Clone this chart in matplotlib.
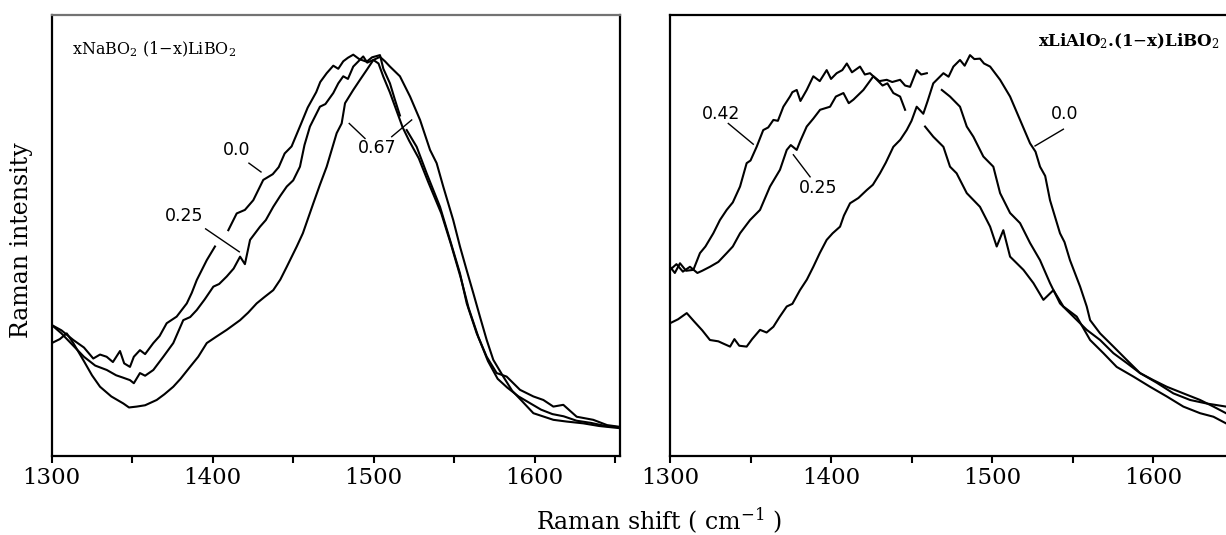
import numpy as np
import matplotlib
matplotlib.use("Agg")
from matplotlib import pyplot
from matplotlib.ticker import MultipleLocator

nan = np.nan

# ---- left panel: xNaBO2.(1-x)LiBO2 ----
na_x00 = [1300, 1306, 1313.4, 1320, 1325.8, 1330, 1334.1, 1338, 1342.4, 1345, 1348.6, 1351, 1354.8, 1358,
          1363.1, 1367, 1371.4, 1377.6, 1383.9, 1387, 1390.1, 1396.3, 1401.4, 1405, 1409.7, 1414.9, 1420,
          1425.2, 1431.4, 1437.3, 1441, 1444.7, 1449, 1454.5, 1459, 1464.3, 1466.8, 1470.8, 1474.9, 1478,
          1481.1, 1484, 1487.3, 1491, 1495.6, 1499, 1503.9, 1506, 1510.1, 1513, 1516.3, 1518, 1520.5,
          1526.7, 1532.9, 1541.2, 1547.4, 1553.6, 1557.8, 1564, 1570.2, 1576.4, 1582.6, 1590.9, 1599.2,
          1605.4, 1611.6, 1617.8, 1626.1, 1636.4, 1645, 1653]
na_y00 = [29.7, 28.5, 26.3, 24.6, 22.1, 23.0, 22.5, 21.3, 23.8, 21.0, 20.2, 22.5, 24.0, 23.1,
          25.6, 27.2, 30.1, 31.6, 34.6, 37.0, 39.9, 44.4, 47.5, nan, 51.2, 55.0, 55.8,
          58.0, 62.6, 63.9, 65.5, 68.6, 70.2, 75.0, 79.0, 82.5, 84.8, 86.8, 88.5, 87.8,
          89.5, 90.3, 91.0, 90.0, 89.4, 90.4, 90.9, 87.8, 84.5, 81.0, 77.2, nan, 73.9,
          70.1, 64.1, 56.5, 49.0, 41.4, 34.6, 27.8, 22.5, 18.8, 18.0, 15.0, 13.5,
          12.7, 11.2, 11.6, 8.9, 8.2, 7.0, 6.6]

na_x25 = [1300, 1306, 1313.4, 1320, 1327, 1334.2, 1340, 1344, 1348.6, 1351, 1354.8, 1358, 1363.1, 1369.3,
          1375.5, 1381.7, 1386, 1390.1, 1395, 1400.4, 1404, 1408.7, 1413, 1417, 1420, 1423.2, 1429.4,
          1433, 1437.6, 1442, 1446, 1450, 1454.2, 1457, 1460.4, 1466.6, 1470, 1474.9, 1478, 1481.1, 1484,
          1487.3, 1493.5, 1496, 1499.8, 1503, 1506, 1510, 1514, 1518, 1522, 1528, 1534, 1542, 1548, 1554,
          1559, 1565, 1571, 1577, 1583, 1590, 1597, 1604, 1611, 1618, 1626, 1635, 1644, 1653]
na_y25 = [29.7, 27.8, 25.0, 22.5, 20.5, 19.5, 18.3, 17.8, 17.2, 16.5, 18.8, 18.2, 19.5, 22.5,
          25.6, 30.8, 31.5, 33.1, 35.5, 38.4, 39.0, 40.7, 42.5, 45.2, 43.5, 49.0, 52.0,
          53.5, 56.5, 59.0, 61.1, 62.5, 65.6, 70.5, 74.7, 79.2, 79.8, 82.3, 84.5, 86.1, 85.5,
          88.3, 90.6, 89.2, 89.8, 89.0, 86.0, 82.5, 78.5, 74.5, 71.5, 67.5, 62.0, 55.0, 48.0, 40.5,
          33.5, 27.0, 21.5, 17.5, 15.5, 13.5, 12.0, 10.5, 9.5, 9.0, 8.0, 7.5, 6.8, 6.5]

na_x67 = [1300, 1305, 1309.3, 1313.4, 1320, 1325, 1330, 1337, 1344.5, 1348, 1352.8, 1358, 1365.2, 1370,
          1375.5, 1380, 1385.9, 1391, 1396.3, 1402, 1408.7, 1417, 1422, 1427.3, 1432, 1437.6, 1442, 1446,
          1452.2, 1456, 1462.5, 1466.6, 1470.8, 1477, 1480.1, 1482.2, 1487.3, 1491.5, 1495.6, 1499.8,
          1503.9, 1507, 1510.1, 1516.3, 1522.6, 1528.8, 1535, 1539.1, 1543.2, 1549.4, 1553.6, 1557.7,
          1561.9, 1566, 1570.2, 1574.3, 1580.5, 1586, 1592, 1599.2, 1605, 1611.6, 1620, 1630.2, 1640, 1653]
na_y67 = [25.6, 26.5, 27.8, 25.6, 21.5, 18.3, 15.7, 13.5, 11.9, 11.0, 11.2, 11.5, 12.7, 14.0,
          15.7, 17.5, 20.2, 22.5, 25.6, 27.0, 28.6, 30.8, 32.5, 34.6, 36.0, 37.6, 40.0, 42.9,
          47.5, 50.5, 57.3, 61.5, 65.6, 73.2, 75.4, 80.0, 83.0, 85.3, 87.5, 89.8,
          90.5, 89.5, 88.3, 86.1, 81.5, 76.2, 69.4, 66.4, 61.1, 53.5, 47.5, 42.2,
          36.9, 31.6, 26.3, 21.8, 18.0, 14.8, 12.5, 9.7, 9.0, 8.2, 7.8, 7.4, 6.8, 6.3]

# ---- right panel: xLiAlO2.(1-x)LiBO2 ----
al_x42 = [1300, 1303, 1306.2, 1310, 1314.5, 1318.6, 1322, 1326.9, 1331, 1335.2, 1339, 1343.5, 1347.6, 1350,
          1353.8, 1357.9, 1361, 1364.2, 1367, 1370.4, 1374.5, 1376, 1378.7, 1381, 1384.9, 1389, 1393,
          1397.3, 1400, 1403.5, 1407, 1409.8, 1413, 1418, 1421, 1424.2, 1428, 1432, 1435, 1438.7, 1442.9,
          1446, 1452, 1458.4, 1463.5, 1469.8, 1473.9, 1478, 1484.3, 1492.5, 1498.8, 1502.9, 1507, 1511.2,
          1519.5, 1525.7, 1531.9, 1538.1, 1544.3, 1552.6, 1560.9, 1569.2, 1577.4, 1587.8, 1598.1, 1608.5,
          1618.8, 1629.2, 1637.5, 1645.3]
al_y42 = [42.9, 41.5, 43.7, 42.0, 42.2, 46.0, 47.5, 50.5, 53.5, 55.8, 57.5, 61.1, 66.4, 67.0,
          70.1, 73.9, 74.5, 76.2, 76.0, 79.2, 81.5, 82.5, 83.0, 80.5, 83.0, 86.1, 85.0,
          87.5, 85.5, 86.8, 87.5, 89.0, 87.0, 88.3, 86.5, 86.8, 85.5, 84.0, 84.5, 82.3, 81.5,
          78.5, nan, 74.7, 72.4, 70.1, 65.6, 64.1, 59.6, 56.5, 52.0, 47.5, 51.2, 45.2,
          42.2, 39.2, 35.4, 37.6, 33.9, 31.6, 26.3, 23.3, 20.2, 18.0, 15.7, 13.5,
          11.2, 9.7, 8.9, 7.4]

al_x25 = [1300, 1304, 1308, 1312.4, 1317, 1320, 1324.8, 1330, 1335.2, 1339, 1343.5, 1349.7, 1355.9, 1362.1,
          1368.3, 1372.5, 1375, 1378.7, 1381, 1384.9, 1389, 1393.2, 1399.4, 1403, 1407.7, 1411, 1413.9,
          1420.1, 1426.3, 1430, 1434.6, 1438, 1442.9, 1446, 1449.1, 1453.2, 1456, 1459.5, 1464, 1468.8,
          1473.9, 1480.1, 1484.3, 1488.4, 1494.6, 1500.8, 1505, 1511.2, 1517.4, 1523.6, 1529.8, 1536,
          1542.2, 1550.5, 1558.8, 1567.1, 1575.4, 1583.6, 1591.9, 1602.3, 1612.6, 1623, 1633.3, 1645.3]
al_y25 = [42.2, 43.5, 41.8, 42.9, 41.5, 42.0, 42.9, 44.0, 46.0, 47.5, 50.5, 53.5, 55.8, 61.1,
          64.9, 69.4, 70.5, 69.4, 71.5, 74.7, 76.5, 78.5, 79.2, 81.5, 82.3, 80.0, 80.8,
          83.0, 86.1, 85.0, 85.3, 84.8, 85.3, 84.0, 83.7, 87.5, 86.5, 86.8, nan, 83.0,
          81.5, 79.2, 74.7, 72.4, 67.9, 65.6, 59.6, 55.1, 52.8, 48.3, 44.4, 39.2,
          34.6, 31.6, 28.6, 26.3, 23.3, 21.1, 18.8, 16.6, 14.2, 12.7, 11.9, 11.2]

al_x00 = [1300, 1305, 1310.4, 1315, 1320, 1324.8, 1330, 1333, 1337.3, 1340, 1343, 1347.6, 1351, 1355.9,
          1360, 1364.2, 1368, 1372.5, 1376, 1380.7, 1385, 1389, 1393, 1397.3, 1401, 1405.6, 1408, 1411.8,
          1417, 1422.2, 1426, 1430.4, 1434, 1438.7, 1443, 1447, 1450, 1453.2, 1457.3, 1460, 1463.5,
          1469.8, 1473, 1476, 1480.1, 1483, 1486.3, 1489, 1492.5, 1495, 1498.8, 1505, 1511.2, 1517.4,
          1523.6, 1527, 1529.8, 1533, 1536, 1542.2, 1545, 1548.4, 1554.7, 1558.8, 1560.9, 1567.1, 1575.4,
          1583.6, 1591.9, 1600.2, 1608.5, 1618.8, 1629.2, 1637.5, 1645.3]
al_y00 = [30.1, 31.0, 32.4, 30.5, 28.5, 26.3, 26.0, 25.5, 24.8, 26.5, 25.0, 24.8, 26.5, 28.6,
          28.0, 29.3, 31.5, 33.9, 34.5, 37.6, 40.0, 42.9, 46.0, 49.0, 50.5, 52.0, 54.5, 57.3,
          58.5, 60.3, 61.5, 64.1, 66.5, 70.1, 71.7, 73.9, 76.0, 79.2, 77.6, 80.5, 84.5,
          86.8, 86.0, 88.3, 89.8, 88.5, 90.9, 90.0, 90.1, 89.0, 88.3, 85.3, 81.5, 76.2,
          70.9, 69.0, 65.6, 63.5, 58.0, 50.5, 48.5, 44.4, 38.4, 33.9, 30.8, 27.8, 24.8,
          21.8, 18.8, 17.2, 15.7, 14.2, 12.7, 11.2, 9.7]

xticks = [1300, 1400, 1500, 1600]

pyplot.rcParams['font.family'] = 'DejaVu Serif'
pyplot.rcParams['mathtext.fontset'] = 'dejavuserif'

fig = pyplot.figure(figsize=(12.26, 5.35), dpi=100)
ax1 = fig.add_axes([0.0422, 0.1477, 0.4635, 0.8243])
ax2 = fig.add_axes([0.5465, 0.1477, 0.4535, 0.8243])

for ax, xmax in ((ax1, 1653), (ax2, 1645.3)):
    ax.set_xlim(1300, xmax)
    ax.set_ylim(0, 100)
    ax.set_yticks([])
    ax.set_xticks(xticks)
    ax.xaxis.set_minor_locator(MultipleLocator(50))
    ax.tick_params(axis='x', which='both', direction='out', length=5, width=1.5, labelsize=16.5, pad=3)
    for s in ax.spines.values():
        s.set_linewidth(1.6)
ax1.spines['top'].set_color('0.45')
ax2.spines['right'].set_visible(False)

lw = 1.5
ax1.plot(na_x00, na_y00, c='k', lw=lw)
ax1.plot(na_x25, na_y25, c='k', lw=lw)
ax1.plot(na_x67, na_y67, c='k', lw=lw)
ax2.plot(al_x42, al_y42, c='k', lw=lw)
ax2.plot(al_x25, al_y25, c='k', lw=lw)
ax2.plot(al_x00, al_y00, c='k', lw=lw)

ax1.text(1312.6, 92.3, r'xNaBO$_2$ (1$-$x)LiBO$_2$', size=11.5, va='center', ha='left')
ax2.text(1641, 94, r'xLiAlO$_2$.(1$-$x)LiBO$_2$', size=12, weight='bold', va='center', ha='right')

lab = dict(size=12.5, family='DejaVu Sans', ha='center', va='center')
lk = dict(c='k', lw=1.0)
ax1.text(1415, 69.4, '0.0', **lab)
ax1.plot([1422.5, 1430], [66.4, 64.4], **lk)
ax1.text(1382, 54.4, '0.25', **lab)
ax1.plot([1395.6, 1416.5], [51.5, 46.3], **lk)
ax1.text(1502, 69.8, '0.67', **lab)
ax1.plot([1484.8, 1494.6], [75.4, 72.0], **lk)
ax1.plot([1511.2, 1523.6], [72.4, 76.2], **lk)
ax2.text(1332, 77.6, '0.42', **lab)
ax2.plot([1336.2, 1351.7], [75.4, 70.7], **lk)
ax2.text(1392, 60.8, '0.25', **lab)
ax2.plot([1376.6, 1387], [68.3, 63.3], **lk)
ax2.text(1545, 77.6, '0.0', **lab)
ax2.plot([1544.3, 1526.7], [74.1, 70.3], **lk)

fig.text(0.0175, 0.551, 'Raman intensity', size=17, rotation=90, va='center', ha='center')
fig.text(0.5375, 0.026, r'Raman shift ( cm$^{-1}$ )', size=17, va='center', ha='center')

pyplot.savefig('out.png', dpi=100)
pyplot.close()
